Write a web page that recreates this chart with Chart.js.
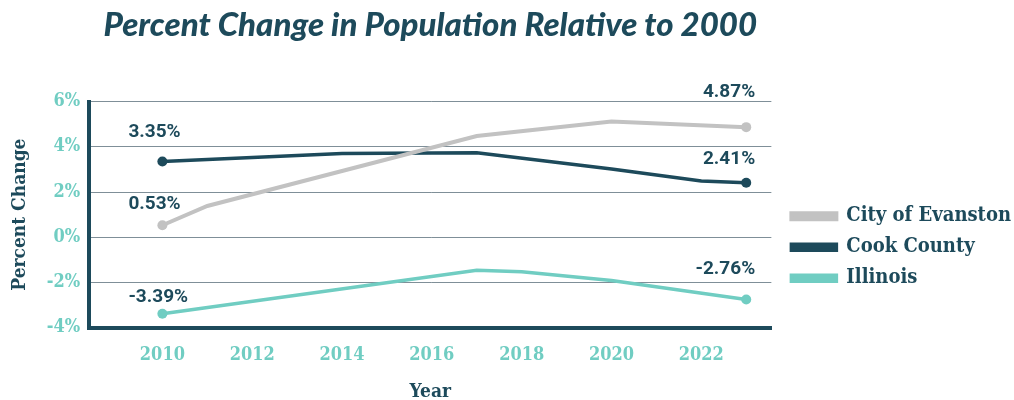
<!DOCTYPE html>
<html>
<head>
<meta charset="utf-8">
<script src="https://cdn.jsdelivr.net/npm/chart.js@4/dist/chart.umd.min.js"></script>
<style>
  html, body { margin: 0; padding: 0; background: #ffffff; }
  #wrap { width: 1014px; height: 400px; }
</style>
</head>
<body>
<div id="wrap"><canvas id="c" width="1014" height="400"></canvas></div>
<script>
// ---- Data ----
const seriesNames = ['City of Evanston', 'Cook County', 'Illinois'];
const evanstonYears = [2010, 2011, 2017, 2020, 2023];
const evanstonValues = [0.53, 1.38, 4.48, 5.12, 4.87];
const cookYears = [2010, 2014, 2017, 2020, 2022, 2023];
const cookValues = [3.35, 3.70, 3.74, 3.02, 2.49, 2.41];
const illinoisYears = [2010, 2017, 2018, 2020, 2023];
const illinoisValues = [-3.39, -1.46, -1.53, -1.92, -2.76];
const xTickYears = [2010, 2012, 2014, 2016, 2018, 2020, 2022];
const yTickValues = [-4, -2, 0, 2, 4, 6];

const DARK = '#1d4a5b';
const GRAY = '#c2c2c2';
const TEAL = '#70cdc2';
const GRID = '#7f8f98';
const SLAB = '"DejaVu Serif Condensed", "DejaVu Serif", serif';

function toPoints(xs, ys) { return xs.map((x, i) => ({ x: x, y: ys[i] })); }
function endRadius(r) {
  return ctx => (ctx.dataIndex === 0 || ctx.dataIndex === ctx.dataset.data.length - 1) ? r : 0;
}

// endpoint value labels
const endLabels = {
  id: 'endLabels',
  afterDatasetsDraw(chart, args, opts) {
    const c = chart.ctx;
    c.save();
    c.font = opts.font;
    c.fillStyle = opts.color;
    c.textBaseline = 'middle';
    chart.data.datasets.forEach((ds, di) => {
      const meta = chart.getDatasetMeta(di);
      const n = ds.data.length;
      const pts = [[0, meta.data[0]], [n - 1, meta.data[n - 1]]];
      pts.forEach(([idx, el], k) => {
        const v = ds.data[idx].y;
        const txt = v.toFixed(2) + '%';
        const off = opts.offsets[di][k];
        c.textAlign = k === 0 ? 'left' : 'right';
        c.fillText(txt, el.x + off[0], el.y + off[1]);
      });
    });
    c.restore();
  }
};

// horizontal gap between plot area and legend items
const legendGap = {
  id: 'legendGap',
  afterLayout(chart, args, opts) {
    const lg = chart.legend;
    if (!lg) return;
    lg.left += opts.extra; lg.right += opts.extra;
  }
};

new Chart(document.getElementById('c'), {
  type: 'line',
  data: {
    datasets: [
      { label: seriesNames[0], data: toPoints(evanstonYears, evanstonValues),
        borderColor: GRAY, backgroundColor: GRAY, borderWidth: 4,
        pointRadius: endRadius(5), pointBackgroundColor: GRAY, pointBorderWidth: 0 },
      { label: seriesNames[1], data: toPoints(cookYears, cookValues),
        borderColor: DARK, backgroundColor: DARK, borderWidth: 3.5,
        pointRadius: endRadius(5), pointBackgroundColor: DARK, pointBorderWidth: 0 },
      { label: seriesNames[2], data: toPoints(illinoisYears, illinoisValues),
        borderColor: TEAL, backgroundColor: TEAL, borderWidth: 3.5,
        pointRadius: endRadius(5), pointBackgroundColor: TEAL, pointBorderWidth: 0 }
    ]
  },
  options: {
    responsive: false,
    animation: false,
    devicePixelRatio: 1,
    layout: { padding: { left: 9, right: 2, top: 6, bottom: 0 } },
    scales: {
      x: {
        type: 'linear',
        min: 2008.37, max: 2023.56,
        afterBuildTicks: s => { s.ticks = xTickYears.map(v => ({ value: v })); },
        grid: { display: false, drawTicks: false },
        border: { display: true, color: DARK, width: 4 },
        ticks: { color: TEAL, padding: 17, font: { family: SLAB, size: 18, weight: 'bold' },
                 callback: v => String(v), maxRotation: 0, autoSkip: false },
        title: { display: true, text: 'Year', color: DARK, padding: { top: -3, bottom: -3 },
                 font: { family: SLAB, size: 19, weight: 'bold' } }
      },
      y: {
        min: -4, max: 6,
        afterBuildTicks: s => { s.ticks = yTickValues.map(v => ({ value: v })); },
        grid: { color: GRID, lineWidth: 1, drawTicks: false },
        border: { display: true, color: DARK, width: 4 },
        ticks: { color: TEAL, padding: 9, font: { family: SLAB, size: 18, weight: 'bold' },
                 callback: v => v + '%' },
        title: { display: true, text: 'Percent Change', color: DARK, padding: { top: 0, bottom: 6 },
                 font: { family: SLAB, size: 19, weight: 'bold' } }
      }
    },
    plugins: {
      title: {
        display: true, fullSize: false,
        text: 'Percent Change in Population Relative to 2000',
        color: DARK,
        font: { family: 'Lato, "Open Sans", sans-serif', size: 33, weight: '900', style: 'italic' },
        padding: { top: 0, bottom: 56 }
      },
      legend: {
        position: 'right',
        title: { display: true, text: ' ', font: { size: 12 }, padding: { top: 74, bottom: 0 } },
        labels: {
          color: DARK, boxWidth: 45, boxHeight: 6, padding: 11,
          font: { family: SLAB, size: 20, weight: 'bold' }
        }
      },
      legendGap: { extra: 9 },
      tooltip: { enabled: false },
      endLabels: {
        font: 'bold 19px Roboto, "Noto Sans", sans-serif',
        color: DARK,
        offsets: [
          [[-34, -21], [9, -35]],
          [[-34, -29], [9, -23]],
          [[-34, -17], [9, -30]]
        ]
      }
    }
  },
  plugins: [endLabels, legendGap]
});
</script>
</body>
</html>
